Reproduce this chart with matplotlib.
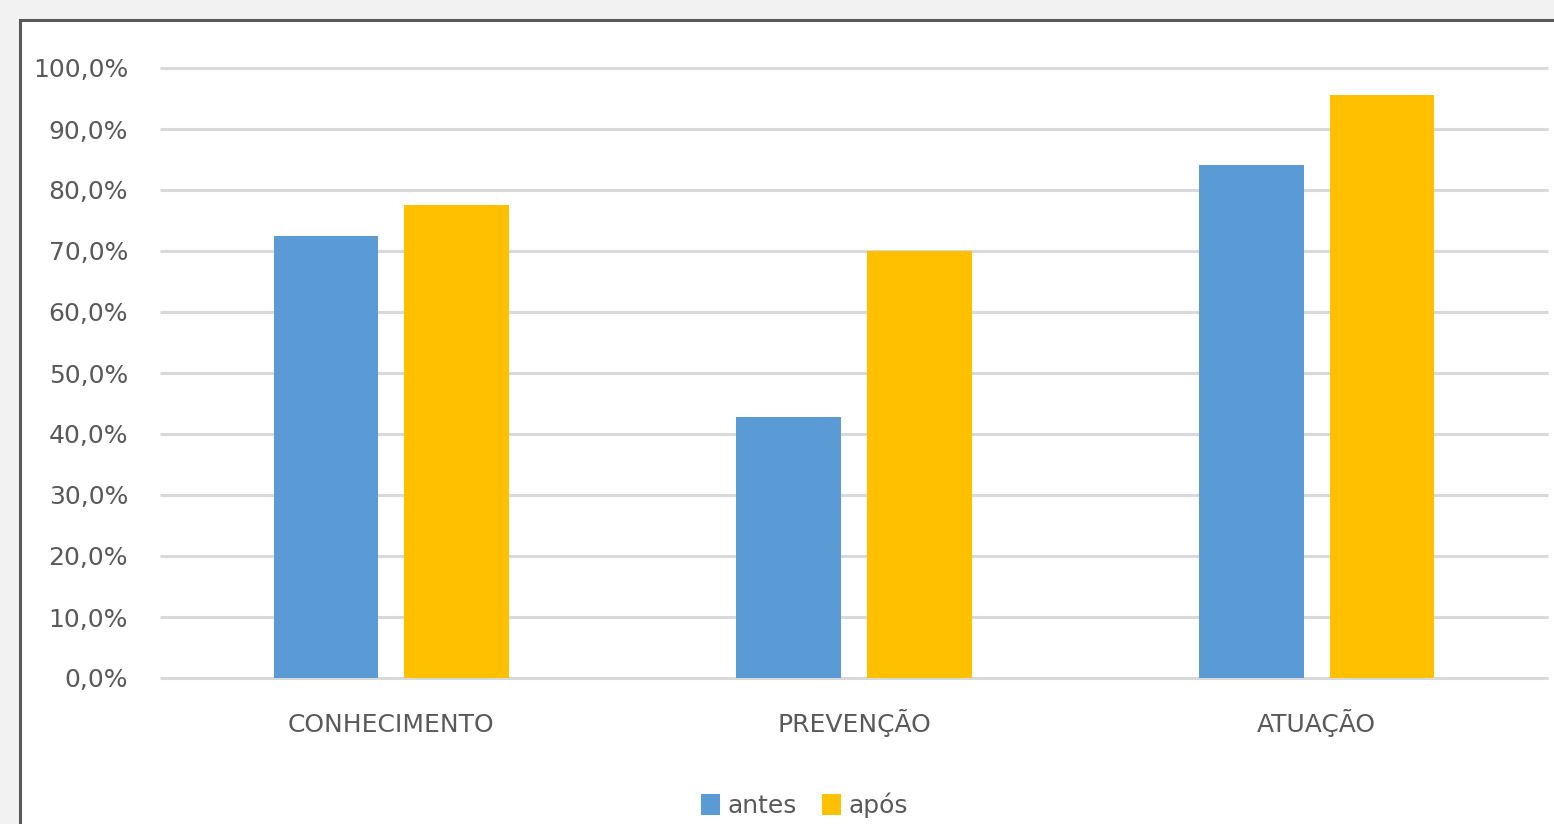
import matplotlib.pyplot as plt
import matplotlib.patches as patches
import numpy as np
from matplotlib.ticker import FuncFormatter

categories = ['CONHECIMENTO', 'PREVENÇÃO', 'ATUAÇÃO']
antes = [72.5, 42.8, 84.1]
apos = [77.5, 70.0, 95.6]
series_names = ['antes', 'após']

plt.rcParams['font.family'] = ['DejaVu Sans']

fig = plt.figure(figsize=(15.54, 8.24), dpi=100)
fig.patch.set_facecolor('#f2f2f2')

# white chart panel with dark border (left and top edges visible)
panel = patches.Rectangle((20 / 1554, -0.1), 1.2, 1.1 - 20 / 824,
                          transform=fig.transFigure, facecolor='white',
                          edgecolor='#595959', linewidth=2.2, zorder=-10)
fig.patches.append(panel)

ax = fig.add_axes([160 / 1554, 1 - 678 / 824, 1388 / 1554, 610 / 824])
ax.set_facecolor('none')
ax.set_zorder(1)

x = np.arange(len(categories))
w = 0.2265
off = 0.1413
ax.bar(x - off, antes, w, color='#5b9bd5', label=series_names[0], zorder=3)
ax.bar(x + off, apos, w, color='#ffc000', label=series_names[1], zorder=3)

ax.set_xlim(-0.5, 2.5)
ax.set_ylim(0, 100)
ax.set_yticks(np.arange(0, 101, 10))
ax.yaxis.set_major_formatter(FuncFormatter(lambda v, p: f'{v:.1f}%'.replace('.', ',')))
ax.set_xticks(x)
ax.set_xticklabels(categories)
ax.grid(axis='y', color='#d9d9d9', linewidth=2.2, zorder=0, solid_capstyle='butt')
for gl in ax.get_ygridlines():
    gl.set_clip_on(False)
ax.tick_params(axis='y', length=0, pad=23, labelsize=18, labelcolor='#595959')
ax.tick_params(axis='x', length=0, pad=39, labelsize=18, labelcolor='#595959')
for lbl in ax.get_xticklabels():
    lbl.set_verticalalignment('baseline')
for s in ax.spines.values():
    s.set_visible(False)

leg = ax.legend(loc='lower center', bbox_to_anchor=(0.4644, -0.267), ncol=2,
                frameon=False, fontsize=18, handlelength=0.75, handleheight=0.9,
                handletextpad=0.3, columnspacing=1.0)
for t in leg.get_texts():
    t.set_color('#595959')

fig.savefig('out.png', dpi=100, facecolor=fig.get_facecolor())
